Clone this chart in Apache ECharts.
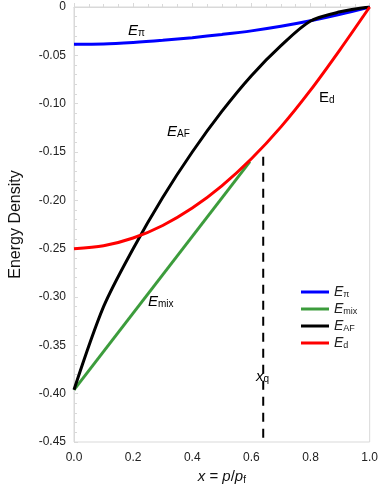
<!DOCTYPE html>
<html>
<head>
<meta charset="utf-8">
<script src="https://cdn.jsdelivr.net/npm/echarts@6/dist/echarts.min.js"></script>
<style>
  html, body { margin: 0; padding: 0; background: #fff; }
  #chart { width: 381px; height: 490px; }
</style>
</head>
<body>
<div id="chart"></div>
<script>
// values, x = p/pf
const xPi = [0, 0.1, 0.2, 0.3, 0.4, 0.5, 0.6, 0.7, 0.8, 0.9, 1.0]
const ePi = [-0.0385, -0.0383, -0.0368, -0.0345, -0.0317, -0.0284, -0.0247, -0.0200, -0.0143, -0.0076, 0]

const xAF = [0, 0.1, 0.2, 0.3, 0.4, 0.5, 0.6, 0.7, 0.8, 0.9, 1.0]
const eAF = [-0.396, -0.310, -0.250, -0.197, -0.150, -0.108, -0.071, -0.040, -0.0145, -0.005, 0]

const xD = [0, 0.1, 0.2, 0.3, 0.4, 0.5, 0.6, 0.7, 0.8, 0.9, 1.0]
const eD = [-0.250, -0.247, -0.239, -0.226, -0.208, -0.185, -0.157, -0.124, -0.086, -0.044, 0]

const xMix = [0, 0.595]
const eMix = [-0.396, -0.160]

const xq = 0.64
const xqLine = [-0.155, -0.45]

const pairs = (xs, ys) => xs.map((x, i) => [x, ys[i]])

const labelRich = {
  e: { fontFamily: 'Liberation Sans', fontSize: 15, fontStyle: 'italic', color: '#222' },
  r: { fontFamily: 'Liberation Sans', fontSize: 15, color: '#222' },
  s: { fontFamily: 'Liberation Sans', fontSize: 10, color: '#222', padding: [6, 0, 0, 0] }
}

const legendRich = {
  e: { fontFamily: 'Liberation Sans', fontSize: 14, fontStyle: 'italic', color: '#222' },
  s: { fontFamily: 'Liberation Sans', fontSize: 9, color: '#222', padding: [5, 0, 0, 0] }
}

const legendText = {
  'Eπ': '{e|E}{s|π}',
  'Emix': '{e|E}{s|mix}',
  'EAF': '{e|E}{s|AF}',
  'Ed': '{e|E}{s|d}'
}

const line = (name, data, color, smooth) => ({
  name,
  type: 'line',
  data,
  smooth,
  symbol: 'none',
  lineStyle: { color, width: 3 },
  itemStyle: { color },
  animation: false
})

const chart = echarts.init(document.getElementById('chart'))

const text = (left, top, rich) => ({
  type: 'text',
  left,
  top,
  style: { rich: labelRich, text: rich }
})

chart.setOption({
  grid: { left: 69, right: 9, top: 7, bottom: 47, show: true, borderColor: '#d9d9d9', borderWidth: 1 },
  legend: {
    data: ['Eπ', 'Emix', 'EAF', 'Ed'],
    orient: 'vertical',
    left: 296,
    top: 280,
    itemWidth: 28,
    itemHeight: 3,
    itemGap: 3,
    icon: 'rect',
    formatter: name => legendText[name],
    textStyle: { rich: legendRich }
  },
  xAxis: {
    type: 'value',
    min: 0,
    max: 1,
    interval: 0.2,
    name: '{i|x} = {i|p}/{i|p}{s|f}',
    nameLocation: 'middle',
    nameGap: 27,
    nameTextStyle: {
      rich: {
        i: { fontFamily: 'Liberation Sans', fontSize: 15, fontStyle: 'italic', color: '#111' },
        s: { fontFamily: 'Liberation Sans', fontSize: 10, color: '#111', padding: [6, 0, 0, 0] }
      },
      fontFamily: 'Liberation Sans', fontSize: 15, color: '#111'
    },
    axisLine: { lineStyle: { color: '#d9d9d9' } },
    axisTick: { inside: true, length: 4, lineStyle: { color: '#d9d9d9' } },
    minorTick: { show: true, splitNumber: 4, length: 3, lineStyle: { color: '#d9d9d9' } },
    splitLine: { show: false },
    axisLabel: {
      formatter: v => v.toFixed(1),
      fontFamily: 'Liberation Sans', fontSize: 12, color: '#222', margin: 10
    }
  },
  yAxis: {
    type: 'value',
    min: -0.45,
    max: 0,
    interval: 0.05,
    name: 'Energy Density',
    nameLocation: 'middle',
    nameGap: 50,
    nameTextStyle: { fontFamily: 'Liberation Sans', fontSize: 16, color: '#111' },
    axisLine: { lineStyle: { color: '#d9d9d9' } },
    axisTick: { inside: true, length: 4, lineStyle: { color: '#d9d9d9' } },
    minorTick: { show: true, splitNumber: 5, length: 3, lineStyle: { color: '#d9d9d9' } },
    splitLine: { show: false },
    axisLabel: {
      formatter: v => (Math.abs(v) < 1e-9 ? '0' : v.toFixed(2)),
      fontFamily: 'Liberation Sans', fontSize: 12, color: '#222', margin: 8
    }
  },
  series: [
    line('Eπ', pairs(xPi, ePi), '#0000ff', 0.3),
    line('Emix', pairs(xMix, eMix), '#3c9c3c', false),
    line('EAF', pairs(xAF, eAF), '#000000', 0.3),
    line('Ed', pairs(xD, eD), '#ff0000', 0.3),
    {
      name: 'xq',
      type: 'line',
      data: [[xq, xqLine[0]], [xq, xqLine[1]]],
      symbol: 'none',
      lineStyle: { color: '#000', width: 2, type: [9, 7] },
      animation: false,
      silent: true
    }
  ],
  graphic: [
    text(128, 23, '{e|E}{s|π}'),
    text(167, 124, '{e|E}{s|AF}'),
    text(319, 90, '{r|E}{s|d}'),
    text(148, 294, '{e|E}{s|mix}'),
    text(256, 369, '{e|x}{s|q}')
  ]
})
</script>
</body>
</html>
